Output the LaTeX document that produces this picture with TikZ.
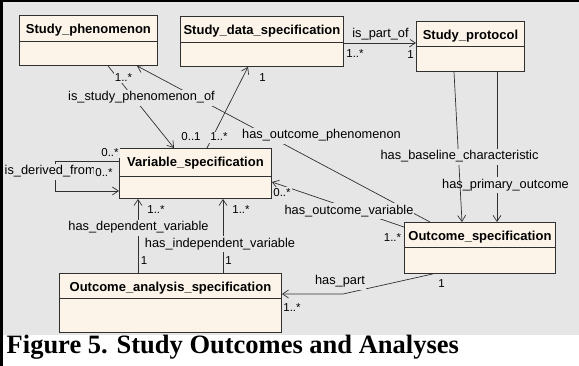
\documentclass[tikz,border=0pt]{standalone}
\usepackage{fontspec}
\setmainfont{Liberation Serif}
\setsansfont{Liberation Sans}
\usetikzlibrary{arrows.meta}
\definecolor{bg}{HTML}{E6E6E6}
\definecolor{cream}{HTML}{FCF4E9}
\definecolor{ink}{HTML}{303030}
\newcommand\UmlBox[7]{%
  \node[cls, minimum width=#4pt, minimum height=#5pt] (#1) at (#2,#3) {};
  \draw[ink, line width=0.9pt] ([yshift=-#6pt]#1.north west) -- ([yshift=-#6pt]#1.north east);
  \node[ctitle] (#1-t) at ([yshift=-18.5pt]#1.north) {#7};%
}
\begin{document}
\begin{tikzpicture}[x=1pt,y=-1pt,
  cls/.style={draw=ink, fill=cream, line width=0.9pt, rectangle, inner sep=0pt, anchor=north west},
  ctitle/.style={font=\sffamily\bfseries\fontsize{13}{15}\selectfont, inner sep=0pt, anchor=base, text=black},
  lbl/.style={font=\sffamily\fontsize{12.8}{15}\selectfont, fill=bg, inner xsep=1pt, inner ysep=2pt, text height=9pt, text depth=3pt, text=black},
  mult/.style={font=\sffamily\fontsize{11.5}{13}\selectfont, fill=bg, inner sep=1pt, text height=8pt, text depth=1pt, text=black},
  assoc/.style={draw=ink, line width=0.7pt, -{Straight Barb[length=6pt,width=8pt]}},
]
\useasboundingbox (0,0) rectangle (579,366);
\fill[white] (0,0) rectangle (579,366);
\fill[bg] (3,2) rectangle (579,335);

% classes
\UmlBox{sp}{19}{15}{138}{50}{26}{Study\_phenomenon}
\UmlBox{sds}{180}{16}{163}{50}{26}{Study\_data\_specification}
\UmlBox{spr}{416}{21}{108}{50}{25}{Study\_protocol}
\UmlBox{vs}{119}{148}{152}{50}{28}{Variable\_specification}
\UmlBox{os}{404}{222}{151}{51}{25}{Outcome\_specification}
\UmlBox{oas}{59}{273}{222}{59}{25}{Outcome\_analysis\_specification}

% connectors
\draw[assoc] ([xshift=89pt]sp.south west) -- ([xshift=55pt]vs.north west);
\draw[assoc] ([xshift=26pt]os.north west) -- ([xshift=118pt]sp.south west);
\draw[assoc] ([yshift=-5pt]os.north west) -- ([yshift=-34pt]vs.north east);
\draw[assoc] ([yshift=-27pt]sds.north east) -- ([yshift=-22pt]spr.north west);
\draw[assoc] ([xshift=88pt]vs.north west) -- ([xshift=68pt]sds.south west);
\draw[assoc] ([yshift=-13pt]vs.north west) -- ++(-64pt,0pt) -- ++(0pt,-30pt) -- ([yshift=-43pt]vs.north west);
\draw[assoc] ([xshift=79pt]oas.north west) -- ([xshift=19pt]vs.south west);
\draw[assoc] ([xshift=164pt]oas.north west) -- ([xshift=104pt]vs.south west);
\coordinate (hp) at (343,294);
\draw[assoc] ([xshift=29pt]os.south west) -- (hp) -- ([yshift=-21pt]oas.north east);
\draw[assoc] ([xshift=81pt]spr.south west) -- ([xshift=93pt]os.north west);

% association labels
\node[lbl] (l1) at (141.5,98) {is\_study\_phenomenon\_of};
\node[lbl] (l2) at (321.5,136) {has\_outcome\_phenomenon};
\node[lbl] (l3) at (349,211.5) {has\_outcome\_variable};
\node[lbl] (l4) at (380.5,35) {is\_part\_of};
\node[lbl] (l6) at (505.5,185.5) {has\_primary\_outcome};
\draw[assoc] ([xshift=38pt]spr.south west) -- ([xshift=58pt]os.north west);
\node[lbl] (l5) at (459.5,157) {has\_baseline\_characteristic};
\node[lbl, anchor=west, inner xsep=0pt] (l7) at (4.5,172) {is\_derived\_from};
\node[lbl] (l8) at (138.5,228) {has\_dependent\_variable};
\node[lbl] (l9) at (220,244.5) {has\_independent\_variable};
\node[lbl] (l10) at (340,282) {has\_part};

% multiplicities
\node[mult] (m1) at (123.5,78) {1..*};
\node[mult] (m2) at (262.5,78) {1};
\node[mult] (m3) at (191,137.5) {0..1};
\node[mult] (m4) at (219,137.5) {1..*};
\node[mult] (m5) at (355,54) {1..*};
\node[mult] (m6) at (410.5,55) {1};
\node[mult] (m7) at (110,153) {0..*};
\node[mult] (m8) at (104,173) {0..*};
\node[mult] (m9) at (282,193) {0..*};
\node[mult] (m10) at (392.5,238) {1..*};
\node[mult] (m11) at (156,210) {1..*};
\node[mult] (m12) at (241,210) {1..*};
\node[mult] (m13) at (144,261) {1};
\node[mult] (m14) at (228.5,261) {1};
\node[mult] (m15) at (441.5,284.5) {1};
\node[mult] (m16) at (292,308) {1..*};

% caption
\node[font=\bfseries\fontsize{26.5}{30}\selectfont, anchor=base west, inner sep=0pt] (cap) at (6.5,354) {Figure 5. Study Outcomes and Analyses};

% frame
\fill[black] (0,0) rectangle (579,2.3);
\fill[black] (0,0) rectangle (2.5,366);
\end{tikzpicture}
\end{document}
